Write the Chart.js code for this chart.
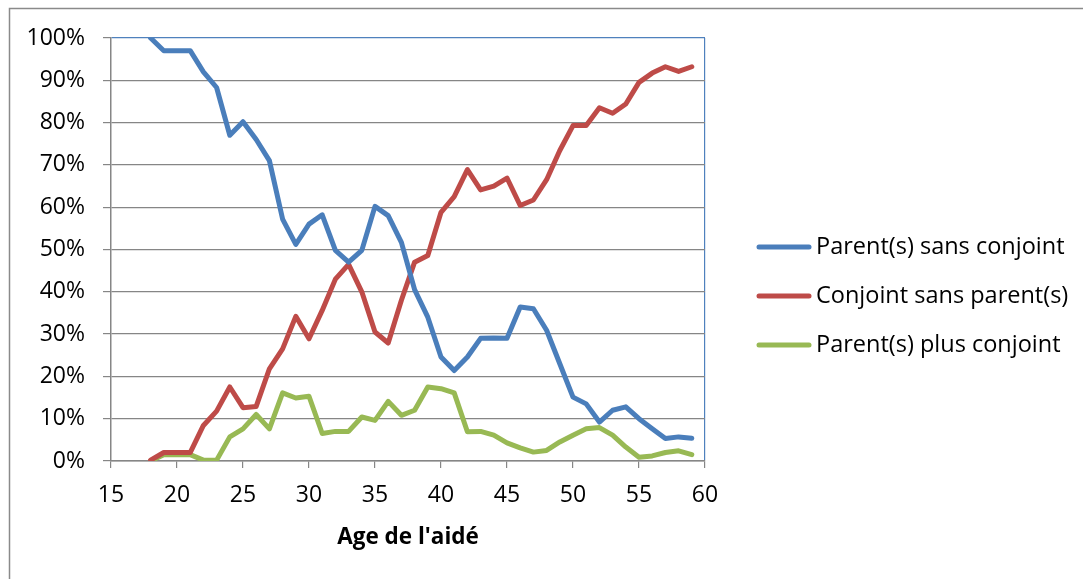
<!DOCTYPE html>
<html>
<head>
<meta charset="utf-8">
<script src="https://cdn.jsdelivr.net/npm/chart.js@4.4.1/dist/chart.umd.min.js"></script>
<style>
  body { margin: 0; background: #fff; }
  #wrap { width: 1083px; height: 579px; position: relative; }
</style>
</head>
<body>
<div id="wrap"><canvas id="chart1" width="1083" height="579"></canvas></div>
<script>
// ages 18..59
const ages = [18, 19, 20, 21, 22, 23, 24, 25, 26, 27, 28, 29, 30, 31, 32, 33, 34, 35, 36, 37, 38,
              39, 40, 41, 42, 43, 44, 45, 46, 47, 48, 49, 50, 51, 52, 53, 54, 55, 56, 57, 58, 59];

const parentsSansConjoint = [100, 97, 97, 97, 92, 88.3, 77, 80.2, 76, 71, 57.2, 51.2, 56, 58.2, 49.8, 47, 49.8, 60.2, 58, 51.7, 40.5,
                             34, 24.6, 21.4, 24.6, 29, 29.1, 29, 36.4, 36, 30.9, 23, 15.1, 13.5, 9.2, 12, 12.8, 10, 7.6, 5.3, 5.7, 5.4];

const conjointSansParents = [0.2, 2, 2, 2, 8.4, 11.8, 17.5, 12.6, 12.9, 21.8, 26.5, 34.2, 28.9, 35.6, 43, 46.5, 40, 30.5, 27.9, 38, 47,
                             48.6, 58.8, 62.5, 68.9, 64.1, 65, 66.9, 60.4, 61.7, 66.5, 73.4, 79.3, 79.3, 83.5, 82.2, 84.4, 89.5, 91.7, 93.2, 92.1, 93.2];

const parentsPlusConjoint = [0, 1.5, 1.5, 1.5, 0.2, 0.2, 5.7, 7.6, 11, 7.6, 16.1, 14.9, 15.3, 6.5, 7, 7, 10.4, 9.6, 14.1, 10.8, 12,
                             17.5, 17.1, 16.1, 6.9, 7, 6.1, 4.3, 3.1, 2.1, 2.5, 4.5, 6.1, 7.6, 7.9, 6.1, 3.3, 0.9, 1.2, 2, 2.4, 1.5];

const seriesLabels = ['Parent(s) sans conjoint', 'Conjoint sans parent(s)', 'Parent(s) plus conjoint'];
const seriesColors = ['#4a7ebb', '#be4b48', '#98b954'];
const xTitle = "Age de l'aidé";

const fontFamily = "'Open Sans', 'Noto Sans', sans-serif";
const gridGray = '#868686';
const frameBlue = '#4f81bd';

function toPoints(values){
    return ages.map(function(a, i){ return {x: a, y: values[i]}; });
}

function makeDataset(label, values, color){
    return {
        label: label,
        data: toPoints(values),
        borderColor: color,
        backgroundColor: color,
        borderWidth: 5,
        pointRadius: 0,
        borderJoinStyle: 'round',
        borderCapStyle: 'round',
        tension: 0
    };
}

// outer frame + legend drawn on the canvas
const framePlugin = {
    id: 'frame',
    beforeDraw: function(chart){
        const ctx = chart.ctx;
        ctx.save();
        ctx.fillStyle = '#fff';
        ctx.fillRect(0, 0, chart.width, chart.height);
        ctx.strokeStyle = '#8a8a8a';
        ctx.lineWidth = 1.5;
        ctx.strokeRect(9.5, 8.5, chart.width + 20, chart.height + 20);
        ctx.restore();
    },
    afterDraw: function(chart){
        const ctx = chart.ctx;
        ctx.save();
        ctx.font = '23.5px ' + fontFamily;
        ctx.textBaseline = 'middle';
        ctx.textAlign = 'left';
        chart.data.datasets.forEach(function(ds, i){
            const y = 247 + i * 49;
            ctx.strokeStyle = ds.borderColor;
            ctx.lineWidth = 5;
            ctx.lineCap = 'round';
            ctx.beginPath();
            ctx.moveTo(759, y);
            ctx.lineTo(809, y);
            ctx.stroke();
            ctx.fillStyle = '#000';
            ctx.fillText(ds.label, 816, y);
        });
        ctx.restore();
    }
};

chart1 = new Chart(document.getElementById('chart1').getContext('2d'), {
    type: 'line',
    data: {
        datasets: [
            makeDataset(seriesLabels[0], parentsSansConjoint, seriesColors[0]),
            makeDataset(seriesLabels[1], conjointSansParents, seriesColors[1]),
            makeDataset(seriesLabels[2], parentsPlusConjoint, seriesColors[2])
        ]
    },
    plugins: [framePlugin],
    options: {
        responsive: false,
        animation: false,
        devicePixelRatio: 1,
        layout: { padding: { left: 0, top: 38, right: 1083 - 705, bottom: 0 } },
        plugins: {
            legend: { display: false },
            tooltip: { enabled: false }
        },
        scales: {
            x: {
                type: 'linear',
                min: 15,
                max: 60,
                afterFit: function(scale){ scale.height = 579 - 461; },
                ticks: {
                    stepSize: 5,
                    color: '#000',
                    padding: 14,
                    maxRotation: 0,
                    font: { family: fontFamily, size: 23 }
                },
                grid: {
                    color: function(c){ return (c.tick && c.tick.value === 60) ? frameBlue : 'rgba(0,0,0,0)'; },
                    tickColor: gridGray,
                    tickLength: 7,
                    lineWidth: 1.2
                },
                border: { color: gridGray, width: 1.5 },
                title: {
                    display: true,
                    text: xTitle,
                    color: '#000',
                    font: { family: fontFamily, size: 22.5, weight: 'bold' },
                    padding: { top: 0, bottom: 28 }
                }
            },
            y: {
                min: 0,
                max: 100,
                afterFit: function(scale){ scale.width = 111; },
                ticks: {
                    stepSize: 10,
                    color: '#000',
                    padding: 18,
                    font: { family: fontFamily, size: 23 },
                    callback: function(v){ return Math.round(v) + '%'; }
                },
                grid: {
                    color: function(c){ return (c.tick && c.tick.value === 100) ? frameBlue : gridGray; },
                    tickColor: gridGray,
                    tickLength: 8,
                    lineWidth: 1.2
                },
                border: { color: gridGray, width: 1.5 }
            }
        }
    }
});
</script>
</body>
</html>
